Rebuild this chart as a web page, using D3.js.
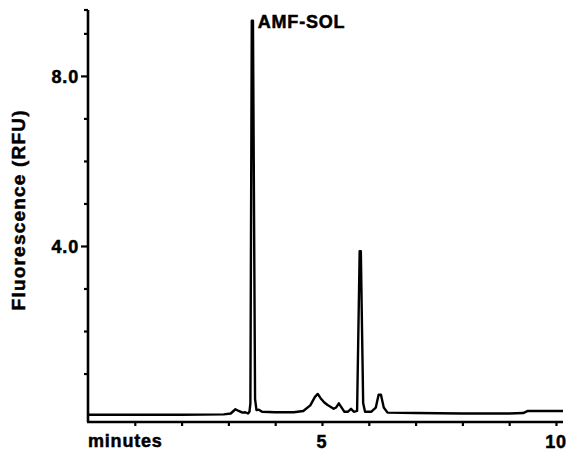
<!DOCTYPE html>
<html lang="en">
<head>
    <meta charset="UTF-8">
    <title>AMF-SOL chromatogram</title>
    <script src="https://cdn.jsdelivr.net/npm/d3@7/dist/d3.min.js"></script>
    <style>
        body { margin: 0; background: #fff; }
        text { font-family: "Liberation Sans", Arial, sans-serif; font-weight: bold; fill: #000;
               stroke: #000; stroke-width: 0.5px; letter-spacing: 0.8px; }
    </style>
</head>
<body>
<script>
    const width = 576, height = 454;

    // trace: time (min) and signal (RFU)
    const times = [0, 1, 2, 2.9, 3.05, 3.15, 3.22, 3.3, 3.36, 3.42, 3.45, 3.47, 3.5, 3.525, 3.57, 3.6, 3.65,
        3.72, 4.0, 4.4, 4.6, 4.75, 4.85, 4.91, 4.97, 5.05, 5.12, 5.18, 5.25, 5.3, 5.36, 5.42, 5.48, 5.55,
        5.62, 5.68, 5.75, 5.805, 5.83, 5.88, 5.92, 6.05, 6.15, 6.21, 6.26, 6.32, 6.4, 7, 8, 9, 9.3, 9.4, 10.15];
    const rfu = [0.03, 0.03, 0.03, 0.04, 0.06, 0.16, 0.12, 0.08, 0.09, 0.06, 0.1, 0.3, 9.3, 9.3, 0.4, 0.14, 0.15,
        0.1, 0.09, 0.09, 0.12, 0.25, 0.45, 0.52, 0.42, 0.32, 0.26, 0.22, 0.17, 0.2, 0.3, 0.2, 0.1, 0.1,
        0.17, 0.1, 0.12, 3.88, 3.88, 0.3, 0.1, 0.1, 0.2, 0.5, 0.5, 0.2, 0.08, 0.07, 0.06, 0.06, 0.07, 0.12, 0.12];

    const yMajor = [4, 8];
    const yMinor = [1, 2, 3, 5, 6, 7, 9];
    const xTicks = [1, 2, 3, 4, 5, 6, 7, 8, 9, 10];
    const xLabels = [5, 10];
    const peakName = 'AMF-SOL';

    const x = d3.scaleLinear().domain([0, 10.15]).range([88, 563]);
    const y = d3.scaleLinear().domain([-0.14, 9.55]).range([422, 10]);

    const svg = d3.select('body').append('svg')
        .attr('width', width)
        .attr('height', height);

    // y axis
    const yMinorAxis = d3.axisLeft(y).tickValues(yMinor).tickSize(4).tickFormat('');
    const yMajorAxis = d3.axisLeft(y).tickValues(yMajor).tickSize(7).tickPadding(2)
        .tickFormat(d3.format('.1f'));

    svg.append('g').attr('transform', 'translate(' + x(0) + ',0)').call(yMinorAxis);
    svg.append('g').attr('class', 'ymajor').attr('transform', 'translate(' + x(0) + ',0)').call(yMajorAxis);

    // x axis
    const xAxis = d3.axisBottom(x).tickValues(xTicks).tickSize(4)
        .tickFormat('');
    svg.append('g').attr('transform', 'translate(0,' + y(-0.14) + ')').call(xAxis);

    svg.selectAll('.domain').remove();
    svg.selectAll('.tick line').attr('stroke', '#000').attr('stroke-width', 2.2);
    svg.selectAll('.ymajor text').style('font-size', '18px').attr('dy', '0.36em');

    // axis lines
    svg.append('line')
        .attr('x1', x(0)).attr('x2', x(0))
        .attr('y1', y(9.55)).attr('y2', y(-0.14))
        .attr('stroke', '#000').attr('stroke-width', 2.6);
    svg.append('line')
        .attr('x1', x(0) - 1).attr('x2', x(10.15))
        .attr('y1', y(-0.14)).attr('y2', y(-0.14))
        .attr('stroke', '#000').attr('stroke-width', 2.6);
    svg.append('line')
        .attr('x1', x(0) - 4).attr('x2', x(0))
        .attr('y1', y(9.55)).attr('y2', y(9.55))
        .attr('stroke', '#000').attr('stroke-width', 2.2);

    // x labels
    svg.selectAll('.xlab')
        .data(xLabels)
        .enter()
        .append('text')
        .attr('x', d => x(d))
        .attr('y', 448)
        .attr('text-anchor', 'middle')
        .style('font-size', '18px')
        .text(d => d);
    svg.append('text')
        .attr('x', x(0))
        .attr('y', 447)
        .style('font-size', '18px')
        .text('minutes');

    // y title
    svg.append('text')
        .attr('transform', 'translate(25,' + y(4.85) + ') rotate(-90)')
        .attr('text-anchor', 'middle')
        .style('font-size', '19px')
        .style('letter-spacing', '1.2px')
        .text('Fluorescence (RFU)');

    // trace
    const line = d3.line()
        .x((d, i) => x(times[i]))
        .y(d => y(d));

    svg.append('path')
        .datum(rfu)
        .attr('d', line)
        .attr('fill', 'none')
        .attr('stroke', '#000')
        .attr('stroke-width', 2.4)
        .attr('stroke-linejoin', 'round');

    svg.append('text')
        .attr('x', x(3.5) + 6)
        .attr('y', 28)
        .style('font-size', '18px')
        .text(peakName);
</script>
</body>
</html>
